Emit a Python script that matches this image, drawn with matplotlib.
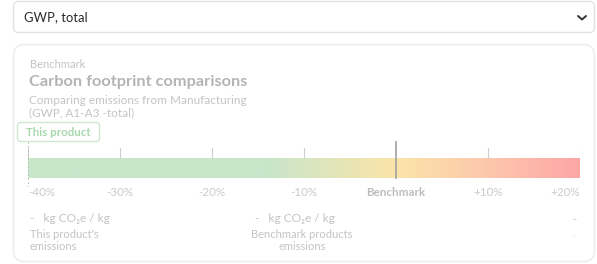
import matplotlib
matplotlib.use("Agg")
import matplotlib.pyplot as plt
import numpy as np
from matplotlib.patches import FancyBboxPatch
from matplotlib.colors import LinearSegmentedColormap

plt.rcParams['font.family'] = ['Lato', 'DejaVu Sans']

# data
dropdown_label = "GWP, total"
tick_vals = [-40, -30, -20, -10, 0, 10, 20]
tick_labels = ["-40%", "-30%", "-20%", "-10%", "Benchmark", "+10%", "+20%"]
benchmark = 0
this_product = -40
grad_stops = [-40, -14, 0, 10, 20]
grad_colors = ["#c8e6ca", "#c8e6ca", "#fbe4a8", "#fdc8ad", "#fea6a6"]

grey = "#c4c4c4"

fig = plt.figure(figsize=(5.97, 2.64), dpi=100)
ui = fig.add_axes([0, 0, 1, 1])
ui.set_xlim(0, 597)
ui.set_ylim(264, 0)
ui.axis('off')

# dropdown box
ui.add_patch(FancyBboxPatch((13.5, 1.5), 581, 31, boxstyle="round,pad=0,rounding_size=5",
                            fc="white", ec="#e3e3e3", lw=1.0))
ui.text(24, 17.5, dropdown_label, fontsize=9.4, color="#2b2b2b", va='center', ha='left')
ui.plot([578, 582, 586], [16, 19.5, 16], color="#333333", lw=1.4, solid_capstyle='round')

# card
ui.add_patch(FancyBboxPatch((13.5, 44.5), 581, 217, boxstyle="round,pad=0,rounding_size=11",
                            fc="white", ec="#ececec", lw=1.0))
ui.text(30, 64, "Benchmark", fontsize=8, color=grey, va='center')
ui.text(29, 82, "Carbon footprint comparisons", fontsize=11.8, fontweight='bold', color="#b4b4b4", va='center')
ui.text(29, 100, "Comparing emissions from Manufacturing", fontsize=8.5, color=grey, va='center')
ui.text(29, 113, "(GWP, A1-A3 -total)", fontsize=8.5, color=grey, va='center')

# "This product" tag
ui.add_patch(FancyBboxPatch((17.5, 122.5), 82, 19, boxstyle="round,pad=0,rounding_size=3",
                            fc="white", ec="#cfe8d1", lw=1.0))
ui.text(58.5, 132.5, "This product", fontsize=8.3, fontweight='bold', color="#a9d8ad", va='center', ha='center')

# bottom labels
ui.text(30, 218, "-   kg CO\u2082e / kg", fontsize=8.6, color=grey, va='center')
ui.text(30, 234, "This product's", fontsize=8, color=grey, va='center')
ui.text(30, 247, "emissions", fontsize=8, color=grey, va='center')
ui.text(255, 218, "-   kg CO\u2082e / kg", fontsize=8.6, color=grey, va='center')
ui.text(302, 234, "Benchmark products", fontsize=8, color=grey, va='center', ha='center')
ui.text(302, 247, "emissions", fontsize=8, color=grey, va='center', ha='center')
ui.text(574, 220, "-", fontsize=8, color=grey, va='center', ha='center')
ui.text(574, 236, "-", fontsize=6, color="#dddddd", va='center', ha='center')

# scale axes: x in percent, y in pixels
ax = fig.add_axes([28 / 597, 0, 552 / 597, 1])
ax.set_xlim(-40, 20)
ax.set_ylim(264, 0)
ax.axis('off')

cmap = LinearSegmentedColormap.from_list(
    "bench", [((s - grad_stops[0]) / (grad_stops[-1] - grad_stops[0]), c) for s, c in zip(grad_stops, grad_colors)])
grad = np.linspace(0, 1, 600).reshape(1, -1)
ax.imshow(grad, cmap=cmap, aspect='auto', extent=[-40, 20, 178, 158], zorder=1)

for v, lab in zip(tick_vals, tick_labels):
    if v == benchmark:
        ax.plot([v, v], [142, 178], color="#a8a8a8", lw=1.3, zorder=3)
        ax.text(v, 192, lab, fontsize=8.4, fontweight='bold', color="#bdbdbd", ha='center', va='center')
    else:
        ax.plot([v, v], [148, 158], color="#cfcfcf", lw=0.8, zorder=2)
        ha = 'center'
        if v == tick_vals[0]:
            ha = 'left'
        elif v == tick_vals[-1]:
            ha = 'right'
        ax.text(v, 192, lab, fontsize=8.4, color="#cacaca", ha=ha, va='center')

ax.plot([this_product, this_product], [142, 187], color="#b9b9b9", lw=1.2, ls=(0, (1.2, 1.2)), zorder=4)

fig.savefig("out.png", dpi=100)
